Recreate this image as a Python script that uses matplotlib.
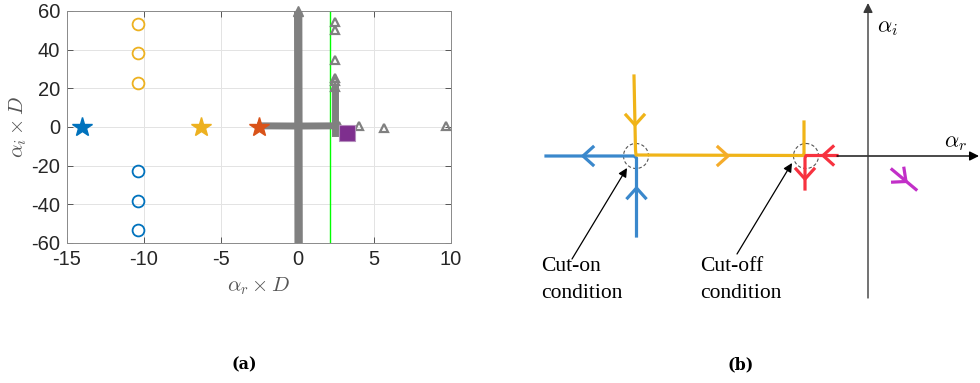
import numpy as np
import matplotlib
matplotlib.use("Agg")
import matplotlib.pyplot as plt
from matplotlib.patches import Circle

plt.rcParams["mathtext.fontset"] = "cm"
plt.rcParams["axes.unicode_minus"] = False

# ---- panel (a): eigenvalue map ----
star_x = [-14.0, -6.25, -2.5]
star_y = [0.0, 0.0, 0.0]
star_colors = ["#0072BD", "#EDB120", "#D95319"]

upper_circ_x = [-10.35, -10.4, -10.4]
upper_circ_y = [53.3, 38.2, 22.5]
lower_circ_x = [-10.4, -10.4, -10.35]
lower_circ_y = [-23.0, -38.5, -53.5]

# thick grey traces (densely packed markers in the original)
vband_x = [0.05, 0.08]
vband_y = [60.0, -60.0]
hband_x = [-2.4, 0.0, 2.45]
hband_y = [0.6, 0.5, 0.6]
stub_x = [2.45, 2.45]
stub_y = [-3.0, 20.0]

tri_x = [2.45, 2.45, 2.45, 2.45, 2.45, 2.45, 2.7, 4.0, 5.65, 9.65]
tri_y = [54.5, 50.0, 34.8, 25.5, 24.0, 20.5, 0.5, 0.6, -0.6, 0.6]

sq_x = [3.2]
sq_y = [-3.0]

cutoff_x = 2.15

xticks_a = [-15, -10, -5, 0, 5, 10]
yticks_a = [-60, -40, -20, 0, 20, 40, 60]

# ---- panel (b): sketch, image-pixel coordinates ----
blue = "#3a88cc"
yellow = "#f0b418"
red = "#f7323f"
magenta = "#c22fc8"

blue_path_x = [546, 634, 636.5, 636.5]
blue_path_y = [156, 156, 158, 236]
yellow_path_x = [634, 635.5, 636, 803, 804, 804]
yellow_path_y = [76, 150, 155, 155.5, 154, 122]
red_path_x = [837, 806, 805, 805]
red_path_y = [155.5, 155.5, 158, 189]
mag_path_x = [892, 916]
mag_path_y = [169.5, 189.5]

# chevrons: tip x, tip y, direction dx, dy, colour
chev_x = [583, 636.5, 635, 728, 823, 805, 906]
chev_y = [156, 188, 125, 156, 155.5, 179, 181.5]
chev_dx = [-1, 0, 0, 1, -1, 0, 0.77]
chev_dy = [0, -1, 1, 0, 0, 1, 0.63]
chev_col = [blue, blue, yellow, "#f5ac2a", red, red, magenta]

ring_x = [636, 806]
ring_y = [156, 156]

fig = plt.figure(figsize=(9.8, 3.83), dpi=100)

ax = fig.add_axes([67 / 980, 1 - 243 / 383, 384 / 980, 232 / 383])
ax.grid(True, color="#e3e3e3", lw=0.7)
ax.set_axisbelow(True)
ax.axvline(cutoff_x, color="#00ff00", lw=1.0, zorder=2)
ax.plot(vband_x, vband_y, color="#808080", lw=6, solid_capstyle="butt", zorder=3)
ax.plot([vband_x[0]], [vband_y[0]], marker="^", ms=7, color="#808080",
        clip_on=False, zorder=3)
ax.plot(hband_x, hband_y, color="#808080", lw=5, zorder=3)
ax.plot(stub_x, stub_y, color="#808080", lw=5, zorder=3)
ax.plot(tri_x, tri_y, ls="none", marker="^", ms=6, mfc="none", mec="#808080",
        mew=1.6, zorder=3)
ax.plot(sq_x, sq_y, ls="none", marker="s", ms=11, color="#7E2F8E",
        mec="#b58dbd", mew=0.8, zorder=4)
for x, y, c in zip(star_x, star_y, star_colors):
    ax.plot(x, y, ls="none", marker="*", ms=15, color=c, zorder=5)
ax.plot(upper_circ_x, upper_circ_y, ls="none", marker="o", ms=8.5, mfc="none",
        mec="#EDB120", mew=1.3, zorder=5)
ax.plot(lower_circ_x, lower_circ_y, ls="none", marker="o", ms=8.5, mfc="none",
        mec="#0072BD", mew=1.3, zorder=5)

ax.set_xlim(-15, 10)
ax.set_ylim(-60, 60)
ax.set_xticks(xticks_a)
ax.set_yticks(yticks_a)
ax.tick_params(direction="in", top=True, right=True, length=4, width=0.6,
               color="#404040", labelsize=14.5, labelcolor="#262626", pad=5)
for lab in ax.get_xticklabels() + ax.get_yticklabels():
    lab.set_fontfamily("Liberation Sans")
for s in ax.spines.values():
    s.set_color("#8a8a8a")
    s.set_linewidth(0.7)
ax.set_xlabel(r"$\alpha_r \times D$", fontsize=15, color="#555555")
ax.set_ylabel(r"$\alpha_i \times D$", fontsize=15, color="#555555")
ax.xaxis.set_label_coords(0.5, -0.185)
ax.xaxis.label.set_va("center")
ax.yaxis.set_label_coords(-0.128, 0.5)
ax.yaxis.label.set_va("center")

# ---- panel (b) ----
bx = fig.add_axes([470 / 980, 0, 510 / 980, 1])
bx.set_xlim(470, 980)
bx.set_ylim(383, 0)
bx.axis("off")

bx.annotate("", xy=(979, 156), xytext=(837, 156),
            arrowprops=dict(arrowstyle="-|>", color="black", lw=1.0,
                            mutation_scale=14, shrinkA=0, shrinkB=0))
bx.annotate("", xy=(868, 3), xytext=(868, 298),
            arrowprops=dict(arrowstyle="-|>", color="#3a3a3a", lw=1.0,
                            mutation_scale=14, shrinkA=0, shrinkB=0))
bx.text(877, 28, r"$\alpha_i$", fontsize=16, va="center", ha="left")
bx.text(944, 143, r"$\alpha_r$", fontsize=16, va="center", ha="left")

bx.plot(blue_path_x, blue_path_y, color=blue, lw=2.3)
bx.plot(yellow_path_x, yellow_path_y, color=yellow, lw=2.3)
bx.plot(red_path_x, red_path_y, color=red, lw=2.3)
bx.plot(mag_path_x, mag_path_y, color=magenta, lw=2.3)

for x, y, dx, dy, c in zip(chev_x, chev_y, chev_dx, chev_dy, chev_col):
    px, py = -dy, dx
    a1 = (x - 10 * dx + 9 * px, y - 10 * dy + 9 * py)
    a2 = (x - 10 * dx - 9 * px, y - 10 * dy - 9 * py)
    bx.plot([a1[0], x, a2[0]], [a1[1], y, a2[1]], color=c, lw=2.3,
            solid_joinstyle="miter")

for x, y in zip(ring_x, ring_y):
    bx.add_patch(Circle((x, y), 12.5, fill=False, ls=(0, (3, 2)),
                        ec="#555555", lw=0.8))

bx.annotate("", xy=(627, 168), xytext=(572, 259),
            arrowprops=dict(arrowstyle="-|>", color="black", lw=0.9,
                            mutation_scale=13, shrinkA=0, shrinkB=0))
bx.annotate("", xy=(792, 163), xytext=(737, 254),
            arrowprops=dict(arrowstyle="-|>", color="black", lw=0.9,
                            mutation_scale=13, shrinkA=0, shrinkB=0))
bx.text(541, 280, "Cut-on\ncondition", fontsize=15.5, family="Liberation Serif",
        va="center", ha="left", linespacing=1.55)
bx.text(700, 280, "Cut-off\ncondition", fontsize=15.5, family="Liberation Serif",
        va="center", ha="left", linespacing=1.55)

fig.text(244 / 980, 1 - 365 / 383, "(a)", fontsize=11.5, weight="bold",
         family="DejaVu Serif", ha="center", va="center")
fig.text(741 / 980, 1 - 365 / 383, "(b)", fontsize=11.5, weight="bold",
         family="DejaVu Serif", ha="center", va="center")

fig.savefig("out.png", dpi=100)
